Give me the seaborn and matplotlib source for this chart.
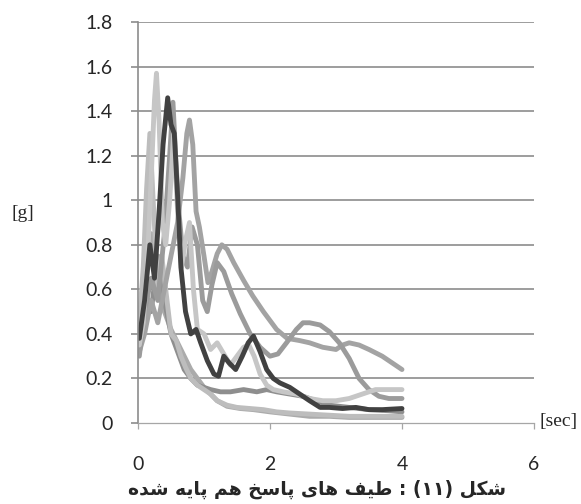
import pandas as pd
import matplotlib
matplotlib.use("Agg")
import matplotlib.pyplot as plt
import seaborn as sns

# response spectra: period [sec] vs Sa [g]
t_a = [0.02, 0.1, 0.18, 0.25, 0.32, 0.38, 0.45, 0.5, 0.55, 0.6, 0.65, 0.72, 0.8, 0.88, 0.95, 1.05, 1.15, 1.22, 1.3, 1.38,
       1.48, 1.58, 1.67, 1.75, 1.85, 1.95, 2.05, 2.15, 2.3, 2.45, 2.6, 2.76, 2.9, 3.1, 3.3, 3.5, 3.7, 4.0]
sa_a = [0.38, 0.55, 0.8, 0.65, 0.95, 1.25, 1.46, 1.34, 1.3, 1.02, 0.7, 0.5, 0.4, 0.42, 0.36, 0.28, 0.22, 0.21, 0.3, 0.27,
        0.24, 0.3, 0.36, 0.39, 0.32, 0.24, 0.2, 0.18, 0.16, 0.13, 0.1, 0.07, 0.07, 0.065, 0.07, 0.06, 0.06, 0.065]

t_b = [0.02, 0.08, 0.14, 0.2, 0.25, 0.28, 0.32, 0.37, 0.42, 0.48, 0.54, 0.6, 0.66, 0.72, 0.78, 0.84, 0.9, 1.0, 1.1, 1.2,
       1.3, 1.4, 1.5, 1.6, 1.68, 1.76, 1.85, 1.95, 2.05, 2.2, 2.4, 2.6, 2.8, 3.0, 3.2, 3.4, 3.6, 3.8, 4.0]
sa_b = [0.35, 0.45, 0.7, 1.1, 1.45, 1.57, 1.35, 0.9, 0.8, 1.0, 1.3, 0.95, 0.7, 0.82, 0.9, 0.6, 0.42, 0.4, 0.33, 0.36,
        0.31, 0.26, 0.3, 0.34, 0.35, 0.3, 0.22, 0.17, 0.15, 0.14, 0.13, 0.11, 0.1, 0.1, 0.11, 0.13, 0.15, 0.15, 0.15]

t_c = [0.02, 0.1, 0.2, 0.3, 0.4, 0.5, 0.6, 0.68, 0.74, 0.78, 0.83, 0.88, 0.93, 1.0, 1.06, 1.12, 1.2, 1.27, 1.35, 1.45,
       1.6, 1.74, 1.9, 2.1, 2.26, 2.45, 2.6, 2.8, 3.0, 3.1, 3.2, 3.35, 3.5, 3.7, 3.85, 4.0]
sa_c = [0.32, 0.4, 0.55, 0.45, 0.6, 0.75, 0.9, 1.1, 1.3, 1.36, 1.25, 0.95, 0.88, 0.75, 0.63, 0.68, 0.76, 0.8, 0.78, 0.72,
        0.64, 0.57, 0.5, 0.42, 0.38, 0.37, 0.36, 0.34, 0.33, 0.35, 0.36, 0.35, 0.33, 0.3, 0.27, 0.24]

t_d = [0.02, 0.1, 0.2, 0.3, 0.4, 0.48, 0.53, 0.57, 0.62, 0.68, 0.75, 0.82, 0.9, 0.98, 1.05, 1.12, 1.2, 1.3, 1.42, 1.55,
       1.7, 1.85, 2.0, 2.12, 2.25, 2.4, 2.5, 2.6, 2.76, 2.9, 3.05, 3.2, 3.35, 3.5, 3.65, 3.8, 4.0]
sa_d = [0.3, 0.5, 0.65, 0.55, 0.85, 1.2, 1.44, 1.2, 0.95, 0.75, 0.7, 0.88, 0.8, 0.55, 0.5, 0.62, 0.72, 0.68, 0.58, 0.49,
        0.4, 0.34, 0.3, 0.31, 0.36, 0.42, 0.45, 0.45, 0.44, 0.41, 0.36, 0.29, 0.2, 0.15, 0.12, 0.11, 0.11]

t_e = [0.02, 0.08, 0.13, 0.18, 0.23, 0.3, 0.36, 0.42, 0.5, 0.58, 0.65, 0.72, 0.8, 0.9, 1.0, 1.1, 1.2, 1.35, 1.5, 1.7,
       1.9, 2.1, 2.3, 2.6, 2.9, 3.2, 3.5, 3.8, 4.0]
sa_e = [0.45, 0.7, 1.05, 1.3, 1.0, 0.6, 0.75, 0.6, 0.4, 0.37, 0.3, 0.25, 0.2, 0.17, 0.15, 0.13, 0.1, 0.08, 0.07, 0.065,
        0.06, 0.05, 0.045, 0.04, 0.035, 0.03, 0.03, 0.03, 0.03]

t_f = [0.02, 0.1, 0.2, 0.3, 0.4, 0.5, 0.6, 0.7, 0.8, 0.9, 1.0, 1.1, 1.25, 1.4, 1.6, 1.8, 1.95, 2.1, 2.3, 2.5,
       2.7, 2.9, 3.2, 3.5, 3.8, 4.0]
sa_f = [0.35, 0.6, 0.5, 0.75, 0.55, 0.4, 0.32, 0.24, 0.2, 0.17, 0.16, 0.15, 0.14, 0.14, 0.15, 0.14, 0.15, 0.14, 0.13, 0.12,
        0.1, 0.08, 0.07, 0.06, 0.055, 0.05]

t_g = [0.02, 0.1, 0.2, 0.3, 0.4, 0.5, 0.6, 0.7, 0.8, 0.9, 1.0, 1.1, 1.2, 1.35, 1.55, 1.75, 2.0, 2.3, 2.6, 2.9,
       3.2, 3.5, 3.8, 4.0]
sa_g = [0.4, 0.7, 0.85, 0.6, 0.5, 0.42, 0.36, 0.3, 0.24, 0.2, 0.16, 0.13, 0.1, 0.075, 0.065, 0.06, 0.05, 0.04, 0.03, 0.03,
        0.025, 0.025, 0.025, 0.025]

records = ["g", "f", "e", "c", "d", "b", "a"]
colors = ["#ababab", "#8e8e8e", "#bdbdbd", "#a3a3a3", "#9b9b9b", "#c6c6c6", "#414141"]

yticks = [0, 0.2, 0.4, 0.6, 0.8, 1, 1.2, 1.4, 1.6, 1.8]
ytick_labels = ["0", "0.2", "0.4", "0.6", "0.8", "1", "1.2", "1.4", "1.6", "1.8"]
xticks = [0, 2, 4, 6]

caption = "شکل (۱۱) : طیف های پاسخ هم پایه شده"

# matplotlib has no arabic shaping -> pick presentation forms by hand
forms = {
    "ش": "\ufeb5\ufeb6\ufeb7\ufeb8", "ک": "\ufb8e\ufb8f\ufb90\ufb91", "ل": "\ufedd\ufede\ufedf\ufee0",
    "ط": "\ufec1\ufec2\ufec3\ufec4", "ی": "\ufbfc\ufbfd\ufbfe\ufbff", "ف": "\ufed1\ufed2\ufed3\ufed4",
    "ه": "\ufee9\ufeea\ufeeb\ufeec", "س": "\ufeb1\ufeb2\ufeb3\ufeb4", "خ": "\ufea5\ufea6\ufea7\ufea8",
    "م": "\ufee1\ufee2\ufee3\ufee4", "پ": "\ufb56\ufb57\ufb58\ufb59", "ب": "\ufe8f\ufe90\ufe91\ufe92",
    "ا": "\ufe8d\ufe8e", "د": "\ufea9\ufeaa",
}


def shape(s):
    out = []
    for i, ch in enumerate(s):
        if ch not in forms:
            out.append(ch)
            continue
        prv = s[i - 1] if i > 0 else ""
        nxt = s[i + 1] if i + 1 < len(s) else ""
        join_prev = prv in forms and len(forms[prv]) == 4
        join_next = len(forms[ch]) == 4 and nxt in forms
        f = forms[ch]
        if join_prev and join_next:
            out.append(f[3])
        elif join_prev:
            out.append(f[1])
        elif join_next:
            out.append(f[2])
        else:
            out.append(f[0])
    vis = "".join(out)[::-1]
    return vis.translate(str.maketrans("()", ")("))


df = pd.concat([
    pd.DataFrame({"T": t, "Sa": sa, "rec": r})
    for t, sa, r in [(t_g, sa_g, "g"), (t_f, sa_f, "f"), (t_e, sa_e, "e"), (t_c, sa_c, "c"),
                     (t_d, sa_d, "d"), (t_b, sa_b, "b"), (t_a, sa_a, "a")]
])

sns.set_style("white")
plt.rcParams["font.family"] = ["Lato", "DejaVu Sans"]

fig = plt.figure(figsize=(5.81, 5.04), dpi=100)
ax = fig.add_axes([0.2375, 0.1607, 0.6816, 0.7956])

sns.lineplot(data=df, x="T", y="Sa", hue="rec", hue_order=records, palette=colors,
             sort=False, estimator=None, linewidth=3.5, legend=False, ax=ax,
             solid_capstyle="round", solid_joinstyle="round")

ax.set_xlim(0, 6)
ax.set_ylim(0, 1.8)
ax.set_yticks(yticks)
ax.set_yticklabels(ytick_labels)
ax.set_xticks(xticks)
ax.set_xticklabels([str(v) for v in xticks])
ax.set_xlabel("")
ax.set_ylabel("")

for v in yticks[1:]:
    ax.axhline(v, color="#8c8c8c", lw=1.2, zorder=0)

for s in ["top", "right"]:
    ax.spines[s].set_visible(False)
ax.spines["left"].set_color("#8c8c8c")
ax.spines["left"].set_linewidth(1.2)
ax.spines["bottom"].set_color("#a6a6a6")
ax.spines["bottom"].set_linewidth(0.9)

ax.tick_params(axis="y", direction="out", length=5, width=1.2, color="#8c8c8c", pad=13, labelsize=14, left=True)
ax.tick_params(axis="x", direction="out", length=4, width=0.9, color="#a6a6a6", pad=20, labelsize=14, bottom=True)

fig.text(0.04, 0.577, "[g]", family="Liberation Serif", fontsize=14, ha="center", va="center")
fig.text(0.928, 0.163, "[sec]", family="Liberation Serif", fontsize=14, ha="left", va="center")
fig.text(0.545, 0.03, shape(caption), family="DejaVu Sans", fontweight="bold", fontsize=13.5,
         ha="center", va="center")

fig.savefig("out.png", dpi=100)
